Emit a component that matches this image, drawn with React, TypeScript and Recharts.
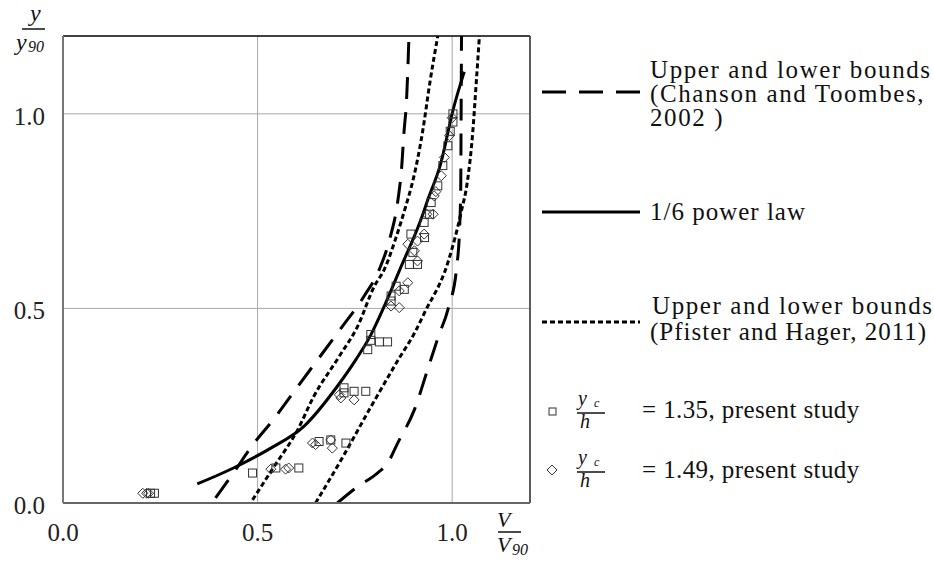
import React from 'react';
import { ComposedChart, Line, Scatter, XAxis, YAxis, CartesianGrid, ReferenceLine } from 'recharts';

// ---- data (V/V90 , y/y90) ----
const xTicks = [0, 0.5, 1.0];
const yTicks = [0, 0.5, 1.0];

const chansonLower: [number, number][] = [
  [0.392, 0.013], [0.44, 0.08], [0.482, 0.142], [0.545, 0.22], [0.603, 0.299], [0.655, 0.369],
  [0.718, 0.454], [0.774, 0.532], [0.813, 0.601], [0.84, 0.68], [0.861, 0.781], [0.87, 0.86],
  [0.876, 0.95], [0.883, 1.04], [0.889, 1.2],
];
const chansonUpper: [number, number][] = [
  [0.705, 0.0], [0.757, 0.042], [0.808, 0.077], [0.834, 0.102], [0.86, 0.154], [0.903, 0.24],
  [0.937, 0.343], [0.965, 0.429], [0.99, 0.5], [1.012, 0.609], [1.019, 0.704], [1.022, 0.807],
  [1.023, 1.0], [1.024, 1.2],
];
const pfisterLower: [number, number][] = [
  [0.487, 0.008], [0.54, 0.09], [0.603, 0.188], [0.644, 0.273], [0.71, 0.377], [0.757, 0.454],
  [0.8, 0.557], [0.826, 0.601], [0.855, 0.68], [0.88, 0.76], [0.9, 0.832], [0.924, 0.954],
  [0.943, 1.082], [0.963, 1.2],
];
const pfisterUpper: [number, number][] = [
  [0.649, 0.0], [0.72, 0.12], [0.79, 0.245], [0.862, 0.369], [0.905, 0.44], [0.929, 0.489],
  [0.989, 0.618], [1.023, 0.747], [1.04, 0.832], [1.053, 0.954], [1.062, 1.082], [1.07, 1.2],
];
const powerLaw: [number, number][] = [
  [0.345, 0.049], [0.438, 0.09], [0.534, 0.141], [0.619, 0.197], [0.705, 0.3], [0.753, 0.369],
  [0.79, 0.43], [0.823, 0.5], [0.866, 0.601], [0.92, 0.729], [0.938, 0.781], [0.97, 0.87],
  [1.003, 1.013], [1.031, 1.108],
];
const study135: [number, number][] = [
  [0.225, 0.025], [0.235, 0.025], [0.487, 0.077], [0.547, 0.09], [0.606, 0.09],
  [0.658, 0.158], [0.688, 0.162], [0.727, 0.154],
  [0.722, 0.296], [0.722, 0.283], [0.748, 0.287], [0.778, 0.287],
  [0.783, 0.394], [0.791, 0.418], [0.791, 0.433], [0.813, 0.414], [0.834, 0.414],
  [0.843, 0.519], [0.843, 0.532], [0.856, 0.557], [0.877, 0.549],
  [0.89, 0.613], [0.911, 0.613], [0.899, 0.644], [0.894, 0.691], [0.929, 0.682],
  [0.928, 0.721], [0.942, 0.742], [0.946, 0.772], [0.963, 0.815], [0.976, 0.867],
  [0.989, 0.918], [0.995, 0.955], [1.002, 0.979], [1.002, 1.0],
];
const study149: [number, number][] = [
  [0.205, 0.025], [0.215, 0.025], [0.22, 0.025],
  [0.534, 0.087], [0.572, 0.087], [0.58, 0.09],
  [0.641, 0.154], [0.649, 0.15], [0.688, 0.162], [0.692, 0.141],
  [0.71, 0.278], [0.714, 0.27], [0.748, 0.265],
  [0.843, 0.506], [0.864, 0.502], [0.864, 0.545], [0.886, 0.566],
  [0.911, 0.622], [0.903, 0.648], [0.886, 0.665], [0.911, 0.673], [0.928, 0.691],
  [0.935, 0.742], [0.951, 0.742], [0.954, 0.789], [0.958, 0.8], [0.972, 0.841],
  [0.98, 0.888], [0.993, 0.944], [1.0, 0.99],
];

const toPts = (arr: [number, number][]) => arr.map(([x, y]) => ({ x, y }));

const SERIF = 'Liberation Serif, DejaVu Serif, serif';
const serif = (size: number, italic = false, extra: any = {}) => ({
  fontFamily: SERIF,
  fontSize: size,
  fontStyle: italic ? 'italic' : 'normal',
  ...extra,
});

const XTick = (props: any) => {
  const { x, y, payload } = props;
  return (
    <text x={x} y={y + 29} dy="0.35em" textAnchor="middle" style={serif(25)} fill="#222">
      {Number(payload.value).toFixed(1)}
    </text>
  );
};
const YTick = (props: any) => {
  const { x, y, payload } = props;
  return (
    <text x={x - 18} y={y + 2} dy="0.35em" textAnchor="end" style={serif(25)} fill="#222">
      {Number(payload.value).toFixed(1)}
    </text>
  );
};

const SquareShape = (p: any) => (
  <rect x={p.cx - 4} y={p.cy - 4} width={8} height={8} fill="none" stroke="#333" strokeWidth={1} />
);
const DiamondShape = (p: any) => (
  <polygon
    points={`${p.cx},${p.cy - 5} ${p.cx + 5},${p.cy} ${p.cx},${p.cy + 5} ${p.cx - 5},${p.cy}`}
    fill="none"
    stroke="#333"
    strokeWidth={1}
  />
);

const LONG_DASH = '22 13';
const DOTS = '5 3';

export default function App() {
  const legWide = serif(25, false, { letterSpacing: '1.6px' });
  const legMid = serif(25, false, { letterSpacing: '1px' });
  const legTight = serif(25, false, { letterSpacing: '0.4px' });
  return (
    <div style={{ position: 'absolute', left: 0, top: 0, width: 934, height: 562, background: '#fff' }}>
      <ComposedChart width={934} height={562} margin={{ top: 36, right: 404, bottom: 19, left: 0 }}>
        <CartesianGrid stroke="#a8a8a8" strokeWidth={1} />
        <XAxis
          type="number"
          dataKey="x"
          domain={[0, 1.2]}
          ticks={xTicks}
          allowDataOverflow
          height={40}
          tickSize={0}
          tickMargin={0}
          tickLine={false}
          axisLine={{ stroke: '#666', strokeWidth: 2 }}
          tick={<XTick />}
        />
        <YAxis
          type="number"
          dataKey="y"
          domain={[0, 1.2]}
          ticks={yTicks}
          allowDataOverflow
          width={63}
          tickSize={0}
          tickMargin={0}
          tickLine={false}
          axisLine={{ stroke: '#777', strokeWidth: 2 }}
          tick={<YTick />}
        />
        <ReferenceLine y={1.2} stroke="#111" strokeWidth={1.5} />
        <ReferenceLine x={1.2} stroke="#333" strokeWidth={1.5} />
        <Scatter data={toPts(study135)} shape={SquareShape} isAnimationActive={false} />
        <Scatter data={toPts(study149)} shape={DiamondShape} isAnimationActive={false} />
        <Line data={toPts(chansonLower)} dataKey="y" type="monotone" stroke="#000" strokeWidth={3} strokeDasharray={LONG_DASH} dot={false} isAnimationActive={false} />
        <Line data={toPts(chansonUpper)} dataKey="y" type="monotone" stroke="#000" strokeWidth={3} strokeDasharray={LONG_DASH} dot={false} isAnimationActive={false} />
        <Line data={toPts(pfisterLower)} dataKey="y" type="monotone" stroke="#000" strokeWidth={3} strokeDasharray={DOTS} dot={false} isAnimationActive={false} />
        <Line data={toPts(pfisterUpper)} dataKey="y" type="monotone" stroke="#000" strokeWidth={3} strokeDasharray={DOTS} dot={false} isAnimationActive={false} />
        <Line data={toPts(powerLaw)} dataKey="y" type="monotone" stroke="#000" strokeWidth={3} dot={false} isAnimationActive={false} />
      </ComposedChart>

      <svg width={934} height={562} style={{ position: 'absolute', left: 0, top: 0, pointerEvents: 'none' }}>
        {/* y-axis title */}
        <text x={30} y={21} style={serif(24, true)} fill="#111">y</text>
        <line x1={22} y1={29} x2={45} y2={29} stroke="#111" strokeWidth={1.5} />
        <text x={16} y={50} style={serif(24, true)} fill="#111">y</text>
        <text x={28} y={52} style={serif(16, true)} fill="#111">90</text>
        {/* x-axis title */}
        <text x={497} y={527} style={serif(22, true)} fill="#111">V</text>
        <line x1={498} y1={532} x2={521} y2={532} stroke="#111" strokeWidth={1.5} />
        <text x={497} y={552} style={serif(22, true)} fill="#111">V</text>
        <text x={512} y={555} style={serif(16, true)} fill="#111">90</text>

        {/* legend */}
        <line x1={542} y1={92} x2={640} y2={92} stroke="#000" strokeWidth={3} strokeDasharray="24 13" />
        <text x={650} y={78} style={legWide} fill="#111">Upper and lower bounds</text>
        <text x={650} y={102} style={legWide} fill="#111">(Chanson and Toombes,</text>
        <text x={650} y={126} style={legWide} fill="#111">2002 )</text>
        <text x={650} y={220} style={legMid} fill="#111">1/6 power law</text>
        <text x={652} y={314} style={legWide} fill="#111">Upper and lower bounds</text>
        <text x={650} y={340} style={legMid} fill="#111">(Pfister and Hager, 2011)</text>
        <text x={642} y={418} style={legTight} fill="#111">= 1.35, present study</text>
        <text x={642} y={478} style={legTight} fill="#111">= 1.49, present study</text>
        <line x1={542} y1={212} x2={640} y2={212} stroke="#000" strokeWidth={3} />
        <line x1={542} y1={322} x2={640} y2={322} stroke="#000" strokeWidth={3} strokeDasharray={DOTS} />

        <rect x={549} y={408} width={7} height={7} fill="none" stroke="#333" strokeWidth={1} />
        <text x={578} y={405} style={serif(20, true)} fill="#111">y</text>
        <text x={594} y={407} style={serif(12, true)} fill="#111">c</text>
        <line x1={577} y1={413} x2={605} y2={413} stroke="#111" strokeWidth={1.5} />
        <text x={580} y={428} style={serif(20, true)} fill="#111">h</text>

        <polygon points="552,465 557,470 552,475 547,470" fill="none" stroke="#333" strokeWidth={1} />
        <text x={578} y={464} style={serif(20, true)} fill="#111">y</text>
        <text x={594} y={466} style={serif(12, true)} fill="#111">c</text>
        <line x1={577} y1={472} x2={605} y2={472} stroke="#111" strokeWidth={1.5} />
        <text x={580} y={487} style={serif(20, true)} fill="#111">h</text>
      </svg>
    </div>
  );
}
